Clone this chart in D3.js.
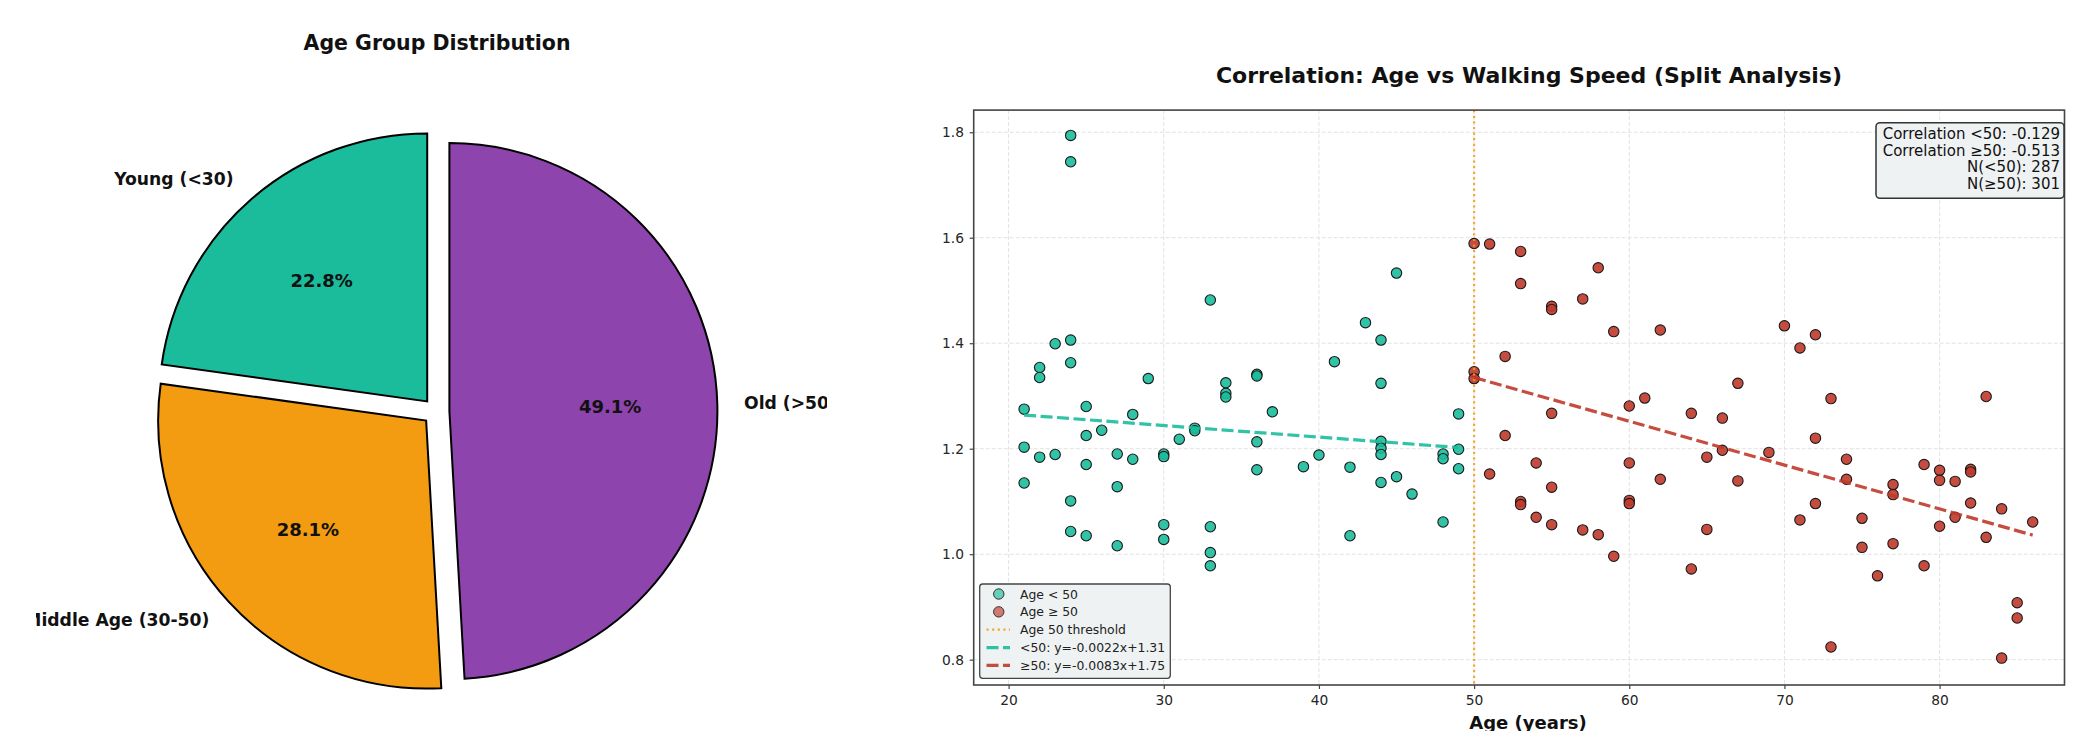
<!DOCTYPE html>
<html>
<head>
<meta charset="utf-8">
<script src="https://cdn.jsdelivr.net/npm/d3@7"></script>
<style>
  html, body { margin: 0; padding: 0; background: #fff; }
  svg { display: block; }
  text { font-family: "DejaVu Sans", sans-serif; }
</style>
</head>
<body>
<svg id="chart" width="2092" height="731"></svg>
<script>
// ---------------- DATA ----------------
const pieLabels   = ["Young (<30)", "Middle Age (30-50)", "Old (>50)"];
const piePercents = [22.8, 28.1, 49.1];
const pieColors   = ["#1abc9c", "#f39c12", "#8e44ad"];
const pieExplode  = [0.05, 0.05, 0.05];

const youngAges   = [24,24,23,24,22,22,24,21,25,28,29,33,34,34,34,36,36,37,41,43,44,44,45,49,
                     21,21,22,23,24,24,25,25,25,26,27,27,27,28,30,30,30,30,31,32,32,33,33,33,
                     36,36,39,40,42,42,44,44,44,44,45,46,48,48,48,49,49];
const youngSpeeds = [1.794,1.744,1.399,1.406,1.354,1.335,1.363,1.275,1.280,1.265,1.333,1.482,1.325,1.305,1.298,1.341,1.338,1.270,1.365,1.439,1.406,1.324,1.533,1.266,
                     1.203,1.135,1.184,1.189,1.101,1.043,1.225,1.170,1.035,1.235,1.190,1.128,1.016,1.180,1.190,1.185,1.056,1.028,1.218,1.239,1.234,1.052,1.003,0.978,
                     1.213,1.160,1.166,1.188,1.165,1.035,1.214,1.201,1.189,1.136,1.147,1.114,1.190,1.181,1.061,1.199,1.162];

const oldAges   = [50,51,53,53,55,55,57,58,59,62,52,50,50,55,60,61,64,66,67,70,71,72,73,83,
                   52,51,54,55,53,53,54,55,57,58,59,60,60,60,62,64,65,65,66,67,69,71,72,72,73,
                   74,74,75,75,76,77,77,77,79,79,80,80,80,81,81,82,82,82,83,84,84,85,85,86];
const oldSpeeds = [1.589,1.588,1.574,1.513,1.470,1.464,1.484,1.543,1.422,1.425,1.375,1.346,1.333,1.267,1.281,1.296,1.267,1.258,1.324,1.433,1.391,1.416,1.295,1.299,
                   1.225,1.152,1.173,1.127,1.100,1.094,1.070,1.056,1.046,1.037,0.996,1.173,1.102,1.096,1.142,0.972,1.184,1.047,1.197,1.139,1.193,1.065,1.220,1.096,0.824,
                   1.180,1.142,1.068,1.013,0.959,1.132,1.113,1.020,1.170,0.978,1.159,1.140,1.053,1.138,1.070,1.161,1.156,1.097,1.032,1.086,0.803,0.908,0.879,1.061];

// regression coefficients as printed in the legend
const fitSlopes     = [-0.0022, -0.0083];
const fitIntercepts = [1.31, 1.75];
const threshold     = 50;

const xTicks = [20, 30, 40, 50, 60, 70, 80];
const yTicks = [0.8, 1.0, 1.2, 1.4, 1.6, 1.8];

const legendLabels = ["Age < 50", "Age \u2265 50", "Age 50 threshold",
                      "<50: y=-0.0022x+1.31", "\u226550: y=-0.0083x+1.75"];
const statsLines = ["Correlation <50: -0.129", "Correlation \u226550: -0.513",
                    "N(<50): 287", "N(\u226550): 301"];

const pieTitle     = "Age Group Distribution";
const scatterTitle = "Correlation: Age vs Walking Speed (Split Analysis)";
const xLabel       = "Age (years)";

// ---------------- DRAW ----------------
const svg = d3.select("#chart");
svg.append("rect").attr("width", 2092).attr("height", 731).attr("fill", "#fff");

const TEAL = "#1abc9c", RED = "#c0392b", ORANGE = "#f39c12";

// ===== PIE =====
const pcx = 436, pcy = 411.5, pr = 268;
svg.append("clipPath").attr("id", "pieClip")
  .append("rect").attr("x", 36).attr("y", 0).attr("width", 827 - 36).attr("height", 731);
const pieG = svg.append("g").attr("clip-path", "url(#pieClip)");

pieG.append("text").attr("x", 437).attr("y", 43)
  .attr("text-anchor", "middle").attr("dominant-baseline", "central")
  .attr("font-size", 20.5).attr("font-weight", "bold").attr("fill", "#111")
  .text(pieTitle);

const pieGen = d3.pie().sort(null).value(d => d).startAngle(0).endAngle(-2 * Math.PI);
const arcs = pieGen(piePercents);
const arcGen = d3.arc().innerRadius(0).outerRadius(pr);

const wedges = pieG.append("g").attr("transform", `translate(${pcx},${pcy})`);
arcs.forEach((a, i) => {
  const mid = (a.startAngle + a.endAngle) / 2;
  const d = pieExplode[i] * pr;
  const ox = d * Math.sin(mid), oy = -d * Math.cos(mid);
  wedges.append("path")
    .attr("d", arcGen(a))
    .attr("transform", `translate(${ox},${oy})`)
    .attr("fill", pieColors[i])
    .attr("stroke", "#000").attr("stroke-width", 2).attr("stroke-linejoin", "miter");

  const lr = d + 1.1 * pr;
  const lx = lr * Math.sin(mid), ly = -lr * Math.cos(mid);
  wedges.append("text").attr("x", lx).attr("y", ly)
    .attr("text-anchor", lx < 0 ? "end" : "start").attr("dominant-baseline", "central")
    .attr("font-size", 17.2).attr("font-weight", "bold").attr("fill", "#111")
    .text(pieLabels[i]);

  const pr2 = d + 0.6 * pr;
  wedges.append("text").attr("x", pr2 * Math.sin(mid)).attr("y", -pr2 * Math.cos(mid))
    .attr("text-anchor", "middle").attr("dominant-baseline", "central")
    .attr("font-size", 18).attr("font-weight", "bold").attr("fill", "#111")
    .text(piePercents[i].toFixed(1) + "%");
});

// ===== SCATTER =====
const L = 973.7, R = 2064.5, T = 110.1, B = 685.0;
const x = d3.scaleLinear().domain([17.75, 88.05]).range([L, R]);
const y = d3.scaleLinear().domain([0.752, 1.842]).range([B, T]);

svg.append("text").attr("x", 1529).attr("y", 75)
  .attr("text-anchor", "middle").attr("dominant-baseline", "central")
  .attr("font-size", 22).attr("font-weight", "bold").attr("fill", "#111")
  .text(scatterTitle);

// grid
const grid = svg.append("g");
grid.selectAll(".gx").data(xTicks).join("line")
  .attr("x1", d => x(d)).attr("x2", d => x(d)).attr("y1", T).attr("y2", B)
  .attr("stroke", "#e2e2e2").attr("stroke-width", 1).attr("stroke-dasharray", "4,2");
grid.selectAll(".gy").data(yTicks).join("line")
  .attr("y1", d => y(d)).attr("y2", d => y(d)).attr("x1", L).attr("x2", R)
  .attr("stroke", "#e2e2e2").attr("stroke-width", 1).attr("stroke-dasharray", "4,2");

// points
const young = youngAges.map((a, i) => ({a, s: youngSpeeds[i]}));
const old = oldAges.map((a, i) => ({a, s: oldSpeeds[i]}));
svg.append("g").selectAll("circle").data(young).join("circle")
  .attr("cx", d => x(d.a)).attr("cy", d => y(d.s)).attr("r", 5.2)
  .attr("fill", TEAL).attr("fill-opacity", 0.9)
  .attr("stroke", "#1a1a1a").attr("stroke-width", 1.1);
svg.append("g").selectAll("circle").data(old).join("circle")
  .attr("cx", d => x(d.a)).attr("cy", d => y(d.s)).attr("r", 5.2)
  .attr("fill", RED).attr("fill-opacity", 0.9)
  .attr("stroke", "#1a1a1a").attr("stroke-width", 1.1);

// threshold line
svg.append("line").attr("x1", x(threshold)).attr("x2", x(threshold)).attr("y1", T).attr("y2", B)
  .attr("stroke", ORANGE).attr("stroke-width", 2.2).attr("stroke-dasharray", "2.2,3.4")
  .attr("opacity", 0.85);

// fit lines
const groups = [young, old];
const fitColors = [TEAL, RED];
groups.forEach((g, i) => {
  const ext = d3.extent(g, d => d.a);
  const pts = ext.map(a => [x(a), y(fitSlopes[i] * a + fitIntercepts[i])]);
  svg.append("path").attr("d", d3.line()(pts))
    .attr("stroke", fitColors[i]).attr("stroke-width", 3.2).attr("fill", "none")
    .attr("stroke-dasharray", "12,4.5").attr("opacity", 0.9);
});

// spines
svg.append("rect").attr("x", L).attr("y", T).attr("width", R - L).attr("height", B - T)
  .attr("fill", "none").attr("stroke", "#444").attr("stroke-width", 1.6);

// axes
const xAxis = svg.append("g").attr("transform", `translate(0,${B})`)
  .call(d3.axisBottom(x).tickValues(xTicks).tickSize(4).tickPadding(6.5).tickFormat(d3.format("d")));
const yAxis = svg.append("g").attr("transform", `translate(${L},0)`)
  .call(d3.axisLeft(y).tickValues(yTicks).tickSize(4).tickPadding(5.7).tickFormat(d3.format(".1f")));
[xAxis, yAxis].forEach(ax => {
  ax.select(".domain").remove();
  ax.selectAll(".tick line").attr("stroke", "#444").attr("stroke-width", 1.2);
  ax.selectAll(".tick text").attr("font-size", 13.8).attr("fill", "#262626")
    .attr("font-family", "DejaVu Sans");
});

svg.append("text").attr("x", 1528).attr("y", 722)
  .attr("text-anchor", "middle").attr("dominant-baseline", "central")
  .attr("font-size", 18).attr("font-weight", "bold").attr("fill", "#111")
  .text(xLabel);

// legend
const lg = svg.append("g");
lg.append("rect").attr("x", 979.7).attr("y", 584).attr("width", 1170.3 - 979.7).attr("height", 678.3 - 584)
  .attr("rx", 3).attr("fill", "#eef1f2").attr("fill-opacity", 0.95)
  .attr("stroke", "#444").attr("stroke-width", 1.3);
const rowY = i => 594 + i * 17.85;
const hx0 = 986.5, hx1 = 1010;
legendLabels.forEach((lab, i) => {
  const yy = rowY(i);
  if (i < 2) {
    lg.append("circle").attr("cx", (hx0 + hx1) / 2 + 0.5).attr("cy", yy).attr("r", 5.2)
      .attr("fill", i === 0 ? TEAL : RED).attr("fill-opacity", 0.65)
      .attr("stroke", "#333").attr("stroke-width", 1);
  } else if (i === 2) {
    lg.append("line").attr("x1", hx0).attr("x2", hx1).attr("y1", yy).attr("y2", yy)
      .attr("stroke", ORANGE).attr("stroke-width", 2.2).attr("stroke-dasharray", "2.2,3.4").attr("opacity", 0.85);
  } else {
    lg.append("line").attr("x1", hx0).attr("x2", hx1).attr("y1", yy).attr("y2", yy)
      .attr("stroke", fitColors[i - 3]).attr("stroke-width", 3.2).attr("stroke-dasharray", "12,4.5").attr("opacity", 0.9);
  }
  lg.append("text").attr("x", 1020).attr("y", yy).attr("dominant-baseline", "central")
    .attr("font-size", 12.4).attr("fill", "#222").text(lab);
});

// stats box
const sb = svg.append("g");
sb.append("rect").attr("x", 1876).attr("y", 122.7).attr("width", 2064 - 1876).attr("height", 198.3 - 122.7)
  .attr("rx", 4).attr("fill", "#eef1f2").attr("fill-opacity", 0.95)
  .attr("stroke", "#333").attr("stroke-width", 1.5);
statsLines.forEach((t, i) => {
  sb.append("text").attr("x", 2060).attr("y", 133.6 + i * 16.9)
    .attr("text-anchor", "end").attr("dominant-baseline", "central")
    .attr("font-size", 15).attr("fill", "#111").text(t);
});
</script>
</body>
</html>
